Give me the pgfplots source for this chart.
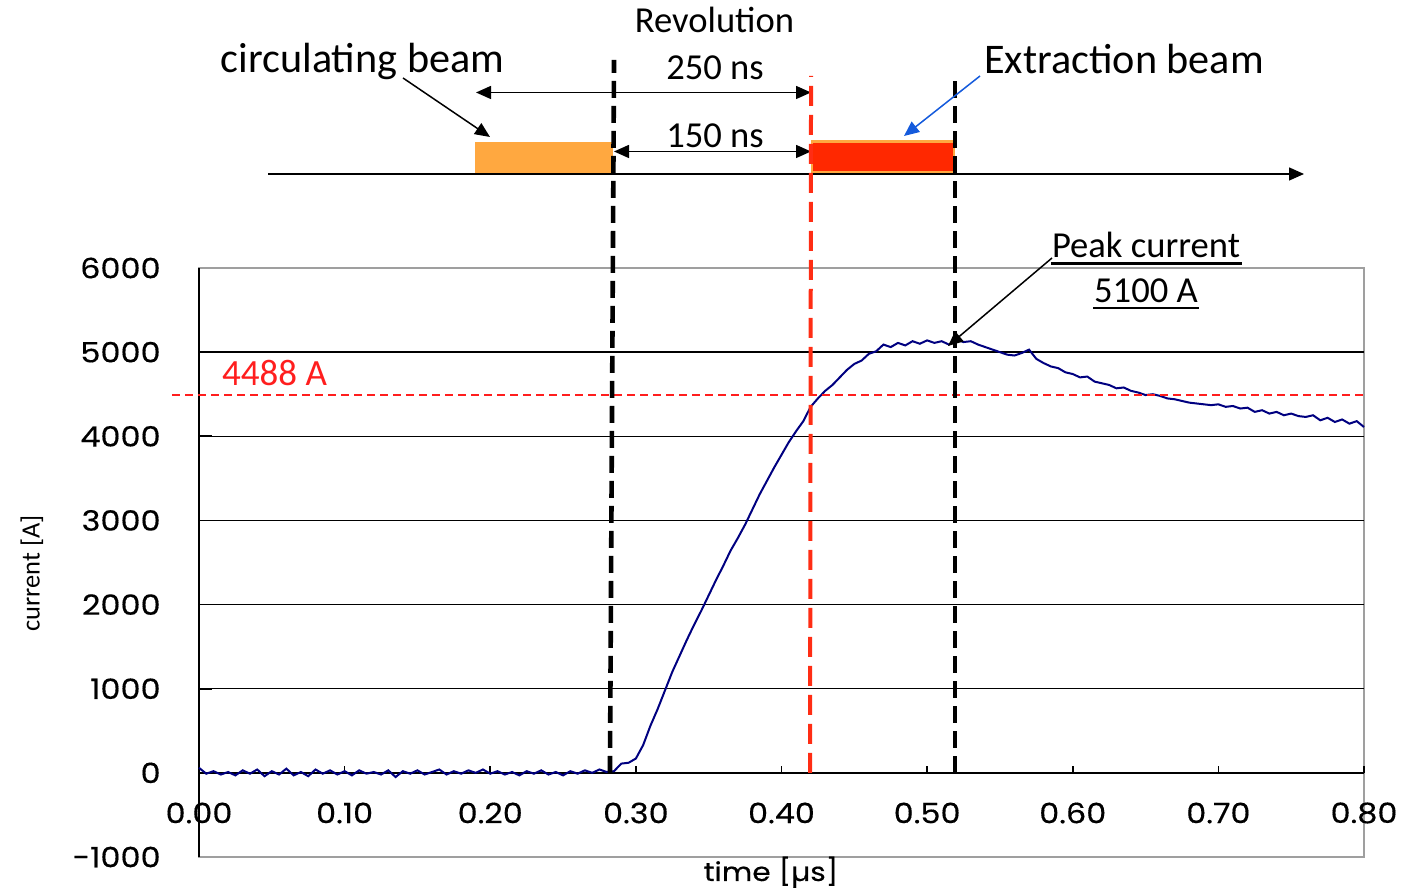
\documentclass[border=0pt]{standalone}
\usepackage{fontspec}
\setmainfont{Carlito}
\newfontfamily\tickfont[FakeStretch=1.14, FakeBold=0.4]{Poppins}
\usepackage{pgfplots}
\usepackage{pgfplotstable}
\pgfplotsset{compat=1.18}
\usetikzlibrary{arrows.meta}

\definecolor{trace}{RGB}{0,0,128}
\definecolor{beamorange}{RGB}{255,168,64}
\definecolor{beamred}{RGB}{255,40,0}
\definecolor{markred}{RGB}{255,45,20}
\definecolor{levelred}{RGB}{255,30,30}
\definecolor{pointerblue}{RGB}{20,90,220}

% measured beam current, time in microseconds, current in ampere
\pgfplotstableread{
t I
0.000 60
0.005 -10
0.010 20
0.015 -20
0.020 10
0.025 -30
0.030 30
0.035 -10
0.040 40
0.045 -40
0.050 20
0.055 -20
0.060 50
0.065 -30
0.070 10
0.075 -40
0.080 40
0.085 -10
0.090 30
0.095 -20
0.100 20
0.105 -30
0.110 30
0.115 -10
0.120 10
0.125 -20
0.130 30
0.135 -50
0.140 20
0.145 -10
0.150 30
0.155 -20
0.160 10
0.165 40
0.170 -20
0.175 20
0.180 -10
0.185 30
0.190 0
0.195 40
0.200 -10
0.205 20
0.210 -20
0.215 10
0.220 -30
0.225 20
0.230 -10
0.235 30
0.240 -20
0.245 10
0.250 -30
0.255 20
0.260 -10
0.265 30
0.270 0
0.275 40
0.280 10
0.285 20
0.290 110
0.295 120
0.300 170
0.305 330
0.310 560
0.315 760
0.320 980
0.325 1200
0.330 1390
0.335 1580
0.340 1760
0.345 1930
0.350 2110
0.355 2290
0.360 2460
0.365 2640
0.370 2790
0.375 2950
0.380 3130
0.385 3310
0.390 3470
0.395 3630
0.400 3780
0.405 3930
0.410 4060
0.415 4180
0.420 4350
0.425 4450
0.430 4540
0.435 4610
0.440 4700
0.445 4790
0.450 4860
0.455 4900
0.460 4980
0.465 5010
0.470 5090
0.475 5060
0.480 5110
0.485 5080
0.490 5130
0.495 5100
0.500 5140
0.505 5110
0.510 5130
0.515 5090
0.520 5150
0.525 5120
0.530 5130
0.535 5090
0.540 5060
0.545 5030
0.550 5000
0.555 4970
0.560 4960
0.565 4990
0.570 5030
0.575 4920
0.580 4870
0.585 4830
0.590 4810
0.595 4760
0.600 4740
0.605 4700
0.610 4710
0.615 4650
0.620 4630
0.625 4610
0.630 4570
0.635 4580
0.640 4540
0.645 4520
0.650 4490
0.655 4500
0.660 4480
0.665 4450
0.670 4440
0.675 4420
0.680 4400
0.685 4390
0.690 4380
0.695 4370
0.700 4380
0.705 4350
0.710 4360
0.715 4330
0.720 4340
0.725 4290
0.730 4310
0.735 4270
0.740 4290
0.745 4250
0.750 4270
0.755 4240
0.760 4230
0.765 4250
0.770 4190
0.775 4220
0.780 4170
0.785 4200
0.790 4150
0.795 4180
0.800 4110
}\currenttable

\tikzset{
  tip/.style={-{Triangle[length=7.5pt,width=6.5pt]}},
  tips/.style={{Triangle[length=7.5pt,width=6.5pt]}-{Triangle[length=7.5pt,width=6.5pt]}},
}

\begin{document}
\begin{tikzpicture}
\begin{axis}[
  at={(0,0)}, anchor=south west,
  scale only axis, width=582.5pt, height=294.5pt,
  xmin=0, xmax=0.8, ymin=-1000, ymax=6000,
  clip=false,
  axis line style={draw=gray!75, line width=0.8pt},
  xtick={0,0.1,0.2,0.3,0.4,0.5,0.6,0.7,0.8},
  xticklabels={0.00,0.10,0.20,0.30,0.40,0.50,0.60,0.70,0.80},
  xtick style={draw=none},
  xticklabel style={anchor=center, yshift=22pt, font=\tickfont\fontsize{14}{16}\selectfont},
  ytick={-1000,0,1000,2000,3000,4000,5000,6000},
  yticklabels={-1000,0,1000,2000,3000,4000,5000,6000},
  ytick pos=left, tick align=inside, major tick length=6.5pt,
  ytick style={black, line width=0.8pt},
  yticklabel style={anchor=east, inner sep=0pt, xshift=-19pt, font=\tickfont\fontsize{14}{16}\selectfont},
]
  % horizontal grid
  \draw[black, line width=0.75pt] (axis cs:0,1000) -- (axis cs:0.8,1000);
  \draw[black, line width=0.75pt] (axis cs:0,2000) -- (axis cs:0.8,2000);
  \draw[black, line width=0.75pt] (axis cs:0,3000) -- (axis cs:0.8,3000);
  \draw[black, line width=0.75pt] (axis cs:0,4000) -- (axis cs:0.8,4000);
  \draw[black, line width=0.75pt] (axis cs:0,5000) -- (axis cs:0.8,5000);
  % time axis at zero current, with its ticks
  \draw[black, line width=1pt] (axis cs:0,0) -- (axis cs:0.8,0);
  \draw[black, line width=0.8pt] (axis cs:0.1,0) -- ++(0pt,3.5pt);
  \draw[black, line width=0.8pt] (axis cs:0.2,0) -- ++(0pt,3.5pt);
  \draw[black, line width=0.8pt] (axis cs:0.3,0) -- ++(0pt,3.5pt);
  \draw[black, line width=0.8pt] (axis cs:0.4,0) -- ++(0pt,3.5pt);
  \draw[black, line width=0.8pt] (axis cs:0.5,0) -- ++(0pt,3.5pt);
  \draw[black, line width=0.8pt] (axis cs:0.6,0) -- ++(0pt,3.5pt);
  \draw[black, line width=0.8pt] (axis cs:0.7,0) -- ++(0pt,3.5pt);
  \draw[black, line width=0.8pt] (axis cs:0.8,0) -- ++(0pt,3.5pt);
  \draw[black, line width=1pt] (axis cs:0,-1000) -- (axis cs:0,6000);

  \addplot[trace, line width=1pt] table[x=t, y=I] {\currenttable};

  % 4488 A level
  \draw[levelred, line width=0.75pt, dash pattern=on 4pt off 2.5pt]
    (axis cs:-0.0185,4488) -- (axis cs:0.8,4488);

  % timing markers
  \coordinate (v1b) at (axis cs:0.2822,0);
  \coordinate (v1t) at (axis cs:0.2850,8474);
  \coordinate (v2b) at (axis cs:0.4196,0);
  \coordinate (v2t) at (axis cs:0.4203,8284);
  \coordinate (v3b) at (axis cs:0.5191,0);
  \coordinate (v3t) at (axis cs:0.5191,8284);
\end{axis}

\begin{scope}[x=0.5pt, y=-0.5pt, shift={(-99.5pt,428.5pt)}]
  % beam bunches on the revolution time line
  \fill[beamorange] (475,142) rectangle (613,174);
  \draw[beamorange, line width=1.2pt, fill=beamred] (812,141.5) rectangle (954,172.5);
  \draw[line width=0.75pt, tip] (268,174) -- (1304,174);
  \draw[line width=0.75pt, tips] (476,92.5) -- (811,92.5);
  \draw[line width=0.75pt, tips] (614,151.5) -- (811,151.5);

  \draw[black, line width=2.3pt, dash pattern=on 8.5pt off 4pt] (v1b) -- (v1t);
  \draw[markred, line width=2pt, dash pattern=on 10pt off 4.5pt] (v2b) -- (v2t);
  \draw[black, line width=2.3pt, dash pattern=on 8.5pt off 4pt] (v3b) -- (v3t);

  \node[anchor=base, inner sep=0pt, font=\fontsize{18.3}{22}\selectfont] at (714.5,33) {Revolution};
  \node[anchor=base, inner sep=0pt, font=\fontsize{18.3}{22}\selectfont] at (715,80) {250 ns};
  \node[anchor=base, inner sep=0pt, font=\fontsize{18.3}{22}\selectfont] at (715,148) {150 ns};
  \node[anchor=base, inner sep=0pt, font=\fontsize{21.1}{25}\selectfont] at (362.5,73) {circulating beam};
  \node[anchor=base, inner sep=0pt, font=\fontsize{21.1}{25}\selectfont] at (1124,74) {Extraction beam};
  \draw[line width=0.75pt, tip] (403,78) -- (490,137);
  \draw[pointerblue, line width=0.75pt, tip] (980,76) -- (904,136);

  % peak annotation
  \node[anchor=base, inner sep=0pt, font=\fontsize{18.3}{22}\selectfont] at (1146,258) {Peak current};
  \draw[line width=1.3pt] (1051,263.5) -- (1242,263.5);
  \node[anchor=base, inner sep=0pt, font=\fontsize{18.3}{22}\selectfont] at (1146,303) {5100 A};
  \draw[line width=1.3pt] (1093,308) -- (1199,308);
  \draw[line width=0.75pt, tip] (1052,258) -- (948,346);

  \node[anchor=base, inner sep=0pt, text=levelred, font=\fontsize{18.5}{22}\selectfont] at (274.5,386) {4488 A};

  % axis titles
  \node[rotate=90, inner sep=0pt, font=\fontsize{13.2}{16}\selectfont] at (32,573.5) {current [A]};
  \node[anchor=base, inner sep=0pt, font=\tickfont\fontsize{13}{15}\selectfont] at (771,881) {time [µs]};

  \pgfresetboundingbox
  \path[use as bounding box] (0,0) rectangle (1408,893);
\end{scope}
\end{tikzpicture}
\end{document}
